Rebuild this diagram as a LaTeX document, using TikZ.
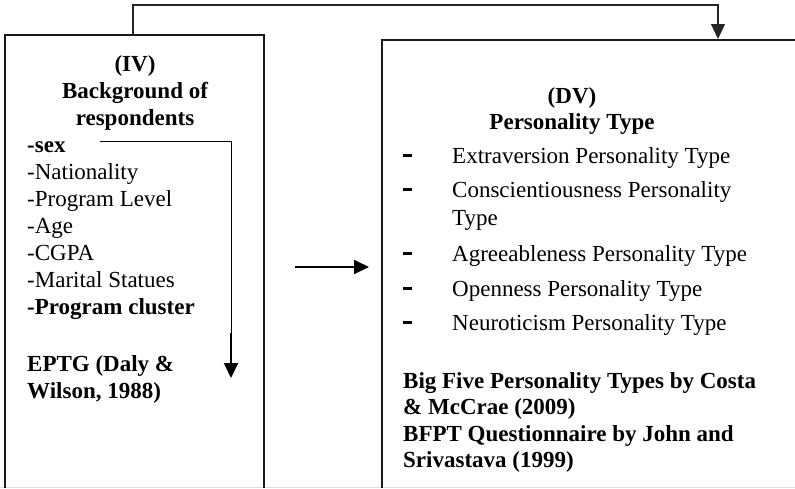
\documentclass[tikz,border=0pt]{standalone}
\usepackage{fontspec}
\setmainfont{Liberation Serif}
\usetikzlibrary{arrows.meta}
\tikzset{
  boxline/.style={line width=2.8pt, draw=black!90},
  thinconn/.style={line width=1.2pt, draw=black!85},
  tip/.style={-{Triangle[length=15pt,width=14pt]}},
  txt/.style={inner sep=0pt, anchor=base west, font=\fontsize{23}{27}\selectfont},
  btxt/.style={txt, font=\fontsize{23}{27}\selectfont\bfseries},
  ctitle/.style={inner sep=0pt, anchor=base, font=\fontsize{23}{27}\selectfont\bfseries},
  dashmark/.style={inner sep=0pt, anchor=base west},
}
\begin{document}
\begin{tikzpicture}[x=1pt,y=-1pt]
\useasboundingbox (0,0) rectangle (795,488);
% faint bottom edge
\draw[gray!25, line width=1pt] (0,487) -- (795,487);
% left box (IV), open below
\coordinate (ivbl) at (5,488);
\coordinate (ivtl) at (5,35);
\coordinate (ivtr) at (264,35);
\coordinate (ivbr) at (264,488);
\draw[boxline] (ivbl) -- (ivtl) -- (ivtr) -- (ivbr);
% right box (DV)
\coordinate (dvbl) at (382,488);
\coordinate (dvtl) at (382,40);
\coordinate (dvtr) at (796,40);
\draw[boxline] (dvbl) -- (dvtl) -- (dvtr);
% left texts
\node[ctitle] (iv) at (135,71) {(IV)};
\node[ctitle] (bg) at (135,98) {Background of};
\node[ctitle] (resp) at (135,125) {respondents};
\node[btxt] (sex) at (27,152) {-sex};
\node[txt] (nat) at (27,179) {-Nationality};
\node[txt] (pl) at (27,206) {-Program Level};
\node[txt] (age) at (27,233) {-Age};
\node[txt] (cgpa) at (27,260) {-CGPA};
\node[txt] (ms) at (27,287) {-Marital Statues};
\node[btxt] (pc) at (27,314) {-Program cluster};
\node[btxt] (eptg) at (27,371) {EPTG (Daly \&};
\node[btxt] (wil) at (27,398) {Wilson, 1988)};
% right texts
\node[ctitle] (dv) at (572,103) {(DV)};
\node[ctitle] (pt) at (572,129) {Personality Type};
\foreach \n/\y/\t in {d1/163/Extraversion Personality Type,
                      d2/197/Conscientiousness Personality,
                      d4/261/Agreeableness Personality Type,
                      d5/296/Openness Personality Type,
                      d6/330/Neuroticism Personality Type}{
  \node[txt] (\n) at (452,\y) {\t};
  \node[dashmark] (\n dash) at (403,\y) {\raisebox{6pt}{\rule{9pt}{2.6pt}}};
}
\node[txt] (d3) at (452,225) {Type};
\node[btxt] (b1) at (403,388) {Big Five Personality Types by Costa};
\node[btxt] (b2) at (403,414) {\& McCrae (2009)};
\node[btxt] (b3) at (403,441) {BFPT Questionnaire by John and};
\node[btxt] (b4) at (403,467) {Srivastava (1999)};
% top connector from IV box to DV box
\coordinate (ivtop) at (133,35);
\coordinate (dvtop) at (718,39);
\draw[thinconn, tip] (ivtop) -- (133,5) -- (718,5) -- (dvtop);
% middle arrow
\coordinate (ma) at (295,267);
\coordinate (mb) at (369,267);
\draw[line width=2pt, tip] (ma) -- (mb);
% inner arrow from -sex
\coordinate (sexend) at (100,141);
\coordinate (turn) at (231,141);
\coordinate (thick) at (231,333);
\coordinate (itip) at (231,378);
\draw[line width=1pt] (sexend) -- (turn) -- (thick);
\draw[line width=2pt, tip] (thick) -- (itip);
\end{tikzpicture}
\end{document}
